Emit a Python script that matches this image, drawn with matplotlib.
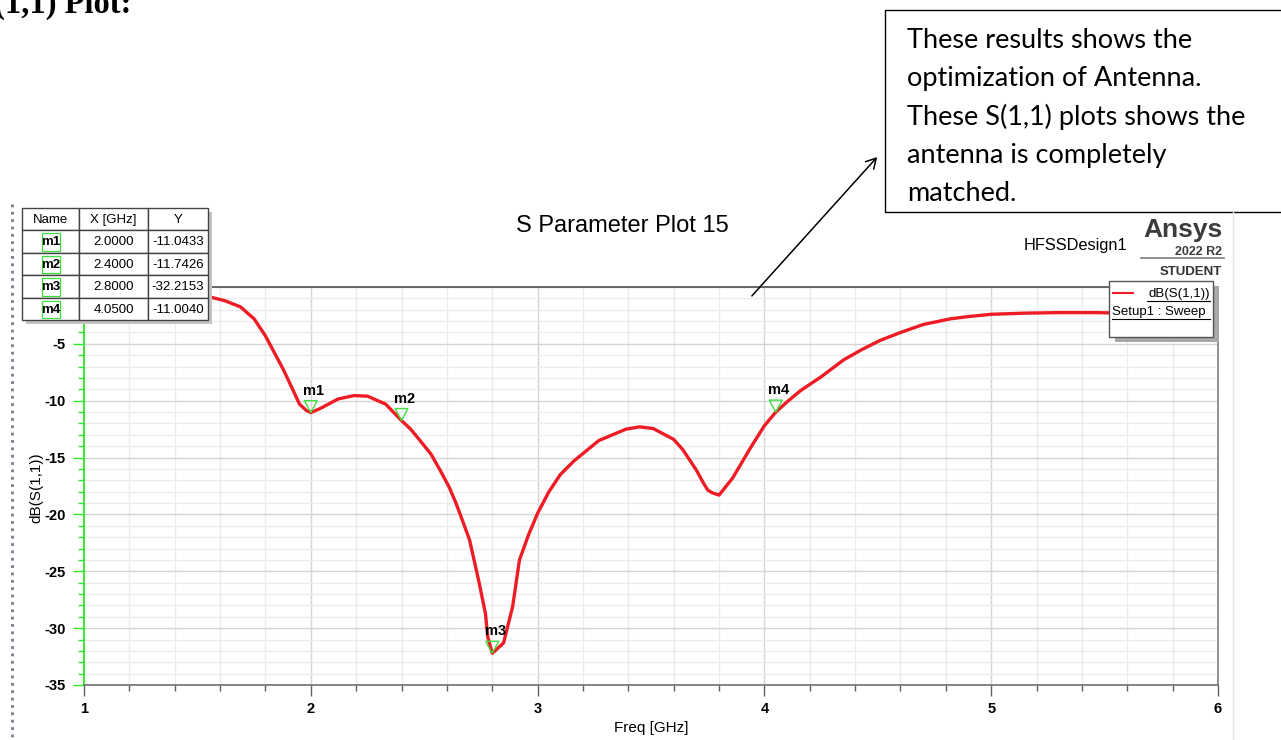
import matplotlib
matplotlib.use("Agg")
import matplotlib.pyplot as plt
from matplotlib.patches import Rectangle, Polygon, FancyArrowPatch
from matplotlib.lines import Line2D
from matplotlib.transforms import ScaledTranslation
from matplotlib.ticker import MultipleLocator

# S11 sweep (GHz, dB)
freq = [1.0, 1.2, 1.4, 1.55, 1.62, 1.69, 1.75, 1.80, 1.84, 1.88, 1.92, 1.95, 1.98,
        2.0, 2.04, 2.12, 2.19, 2.25, 2.33, 2.4, 2.44, 2.48, 2.53, 2.57, 2.61,
        2.64, 2.67, 2.70, 2.74, 2.77, 2.78, 2.8, 2.85, 2.89, 2.92, 2.96, 3.0,
        3.05, 3.10, 3.16, 3.27, 3.39, 3.45, 3.51, 3.60, 3.64, 3.67, 3.70, 3.73,
        3.75, 3.77, 3.80, 3.86, 3.94, 4.0, 4.05, 4.10, 4.16, 4.25, 4.35, 4.43,
        4.51, 4.6, 4.7, 4.82, 4.9, 5.0, 5.15, 5.3, 5.45, 5.6, 5.8, 6.0]
s11 = [-0.2, -0.3, -0.5, -0.85, -1.2, -1.75, -2.8, -4.3, -5.8, -7.3, -9.0, -10.3,
       -10.85, -11.0433, -10.7, -9.85, -9.55, -9.6, -10.3, -11.7426, -12.5, -13.46,
       -14.7, -16.1, -17.6, -19.0, -20.6, -22.25, -25.8, -28.7, -30.75, -32.2153,
       -31.3, -28.1, -24.0, -21.8, -19.9, -18.0, -16.5, -15.3, -13.5, -12.5, -12.3,
       -12.45, -13.4, -14.3, -15.2, -16.1, -17.2, -17.85, -18.1, -18.3, -16.8,
       -14.1, -12.2, -11.004, -10.1, -9.1, -7.9, -6.4, -5.5, -4.7, -4.0, -3.3,
       -2.8, -2.6, -2.4, -2.3, -2.25, -2.25, -2.3, -2.35, -2.45]

# markers
mk_names = ["m1", "m2", "m3", "m4"]
mk_freq = [2.0, 2.4, 2.8, 4.05]
mk_db = [-11.0433, -11.7426, -32.2153, -11.0040]

W, H = 1281, 740


def fx(x):
    return x / W


def fy(y):
    return 1 - y / H


plt.rcParams["font.family"] = ["Liberation Sans", "DejaVu Sans"]
plt.rcParams["axes.unicode_minus"] = False
fig = plt.figure(figsize=(12.81, 7.40), dpi=100)

ax = fig.add_axes([fx(84), fy(685), (1218 - 84) / W, (685 - 287) / H])
ax.plot(freq, s11, color="#ee1c24", lw=2.4, solid_joinstyle="round",
        solid_capstyle="round", zorder=3)
ax.set_xlim(1, 6)
ax.set_ylim(-35, 0)
ax.xaxis.set_major_locator(MultipleLocator(1))
ax.xaxis.set_minor_locator(MultipleLocator(0.2))
ax.yaxis.set_major_locator(MultipleLocator(5))
ax.yaxis.set_minor_locator(MultipleLocator(1))
ax.grid(which="major", color="#d4d4d4", lw=1)
ax.grid(which="minor", color="#ececec", lw=1)
ax.set_axisbelow(True)

ax.spines["left"].set_color("#2ee82e")
ax.spines["left"].set_linewidth(1.3)
ax.spines["bottom"].set_color("#707070")
ax.spines["top"].set_color("#505050")
ax.spines["right"].set_color("#808080")
for s in ["bottom", "top", "right"]:
    ax.spines[s].set_linewidth(1.2)

ax.tick_params(axis="y", which="major", length=8, width=1, color="#2ee82e",
               labelsize=10.5, pad=5)
ax.tick_params(axis="y", which="minor", length=4, width=1, color="#2ee82e")
ax.tick_params(axis="x", which="major", length=8, width=1, color="#606060",
               labelsize=10.5, pad=4)
ax.tick_params(axis="x", which="minor", length=4, width=1, color="#606060")
for lab in ax.get_xticklabels() + ax.get_yticklabels():
    lab.set_fontweight("bold")

# marker triangles and names
for name, mf, md in zip(mk_names, mk_freq, mk_db):
    tr = fig.dpi_scale_trans + ScaledTranslation(mf, md, ax.transData)
    ax.add_patch(Polygon([(-0.065, 0.12), (0.065, 0.12), (0, 0)], closed=True,
                         fill=False, ec="#3ee03e", lw=1, transform=tr, zorder=4))
    ax.annotate(name, (mf, md), xytext=(3, 15), textcoords="offset pixels",
                ha="center", va="bottom", fontsize=10.5, fontweight="bold", zorder=5)

# titles and labels
fig.text(fx(622), fy(226), "S Parameter Plot 15", ha="center", va="center", fontsize=17)
fig.text(fx(1127), fy(245), "HFSSDesign1", ha="right", va="center", fontsize=11.8)
fig.text(fx(1223), fy(237), "Ansys", ha="right", va="baseline", fontsize=19,
         fontweight="bold", color="#3c3c3c")
fig.text(fx(1222), fy(255), "2022 R2", ha="right", va="baseline", fontsize=9,
         fontweight="bold", color="#3c3c3c")
fig.add_artist(Line2D([fx(1141), fx(1224)], [fy(258), fy(258)], color="#7a7a7a", lw=1.2))
fig.text(fx(1222), fy(275), "STUDENT", ha="right", va="baseline", fontsize=9.5,
         fontweight="bold", color="#333333")
fig.text(fx(36), fy(488), "dB(S(1,1))", ha="center", va="center", rotation=90, fontsize=11)
fig.text(fx(651), fy(728), "Freq [GHz]", ha="center", va="center", fontsize=11)

# marker table
col_x = [22, 79, 148, 208]
row_y = [208, 230, 253, 275, 298, 320]
fig.add_artist(Rectangle((fx(26), fy(324)), (208 - 22) / W, (320 - 208) / H,
                         fc="#c4c4c4", ec="none"))
headers = ["Name", "X [GHz]", "Y"]
rows = [headers] + [[n, "%.4f" % f, "%.4f" % d] for n, f, d in zip(mk_names, mk_freq, mk_db)]
for r, cells in enumerate(rows):
    for c, txt in enumerate(cells):
        x0, x1 = col_x[c], col_x[c + 1]
        y0, y1 = row_y[r], row_y[r + 1]
        fig.add_artist(Rectangle((fx(x0), fy(y1)), (x1 - x0) / W, (y1 - y0) / H,
                                 fc="white", ec="#444444", lw=1))
        bold = (c == 0 and r > 0)
        fig.text(fx((x0 + x1) / 2), fy((y0 + y1) / 2 + 1), txt, ha="center", va="center",
                 fontsize=9.5, fontweight="bold" if bold else "normal")
        if bold:
            fig.add_artist(Rectangle((fx(42), fy(y1 - 2)), 18 / W, (y1 - y0 - 5) / H,
                                     fc="none", ec="#3ee03e", lw=0.9))

# legend
fig.add_artist(Rectangle((fx(1115), fy(342)), 104 / W, 56 / H, fc="#a8a8a8", ec="none"))
fig.add_artist(Rectangle((fx(1109), fy(337)), 104 / W, 56 / H, fc="white", ec="#555555", lw=1))
fig.add_artist(Line2D([fx(1113), fx(1133)], [fy(293), fy(293)], color="#ee1c24", lw=1.5))
fig.text(fx(1210), fy(294), "dB(S(1,1))", ha="right", va="center", fontsize=9.5)
fig.add_artist(Line2D([fx(1147), fx(1210)], [fy(301), fy(301)], color="black", lw=0.8))
fig.text(fx(1112), fy(312), "Setup1 : Sweep", ha="left", va="center", fontsize=9.5)
fig.add_artist(Line2D([fx(1112), fx(1210)], [fy(319), fy(319)], color="black", lw=0.8))

# window borders
fig.add_artist(Line2D([fx(12), fx(12)], [fy(204), fy(740)], color="#7a7a8a", lw=2, ls=":"))
fig.add_artist(Line2D([fx(1233), fx(1233)], [fy(212), fy(740)], color="#e6e6e6", lw=1))

# heading and note
fig.text(fx(131), fy(13), "S(1,1) Plot:", ha="right", va="baseline", fontsize=23.5,
         fontweight="bold", family="Liberation Serif")
fig.add_artist(Rectangle((fx(885), fy(212)), 420 / W, 202 / H, fc="white", ec="black", lw=1))
note = ["These results shows the", "optimization of Antenna.",
        "These S(1,1) plots shows the", "antenna is completely", "matched."]
for i, line in enumerate(note):
    fig.text(fx(907), fy(48 + 38.3 * i), line, ha="left", va="baseline",
             fontsize=19.5, family="Lato")
fig.add_artist(FancyArrowPatch((fx(750), fy(298)), (fx(879), fy(155)),
                               transform=fig.transFigure, arrowstyle="->,head_length=7,head_width=4",
                               color="black", lw=1.1))

fig.savefig("out.png", dpi=100)
